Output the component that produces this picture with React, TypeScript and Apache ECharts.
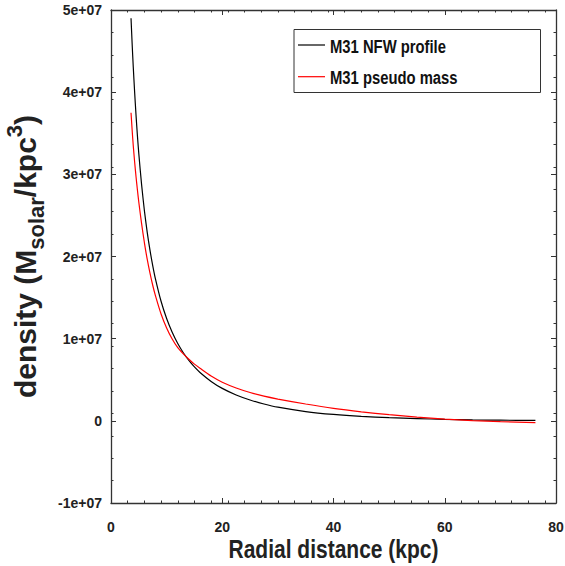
import React, { useEffect, useRef } from "react";
import * as echarts from "echarts";

// Radial distance (kpc) sample points
const radius = [3.6, 3.8, 4, 4.25, 4.5, 4.75, 5, 5.5, 6, 6.5, 7, 7.5, 8, 9, 10, 11, 12, 13, 14, 15, 16, 18, 20, 22.5, 25, 27.5, 30, 35, 40, 45, 50, 55, 60, 65, 70, 76.3];
// M31 NFW profile density (Msolar/kpc^3)
const nfwDensity = [4.9e7, 4.59e7, 4.31e7, 4.0e7, 3.72e7, 3.47e7, 3.25e7, 2.875e7, 2.56e7, 2.3e7, 2.08e7, 1.89e7, 1.725e7, 1.455e7, 1.245e7, 1.078e7, 0.941e7, 0.829e7, 0.735e7, 0.656e7, 0.589e7, 0.48e7, 0.395e7, 0.315e7, 0.254e7, 0.205e7, 0.166e7, 0.113e7, 0.078e7, 0.054e7, 0.038e7, 0.027e7, 0.018e7, 0.012e7, 0.008e7, 0.005e7];
// M31 pseudo mass density (Msolar/kpc^3)
const pseudoDensity = [3.75e7, 3.54e7, 3.35e7, 3.15e7, 2.97e7, 2.81e7, 2.66e7, 2.4e7, 2.17e7, 1.97e7, 1.8e7, 1.65e7, 1.52e7, 1.3e7, 1.13e7, 0.995e7, 0.89e7, 0.815e7, 0.75e7, 0.69e7, 0.64e7, 0.545e7, 0.47e7, 0.4e7, 0.345e7, 0.3e7, 0.265e7, 0.205e7, 0.152e7, 0.11e7, 0.075e7, 0.045e7, 0.02e7, 0.003e7, -0.01e7, -0.022e7];

const seriesNames = ["M31 NFW profile", "M31 pseudo mass"];
const seriesColors = ["#000000", "#ff0000"];
const xTitle = "Radial distance (kpc)";

const xTicks = { min: 0, max: 80, interval: 20 };
const yTicks = { min: -1e7, max: 5e7, interval: 1e7 };

const SANS = "'Liberation Sans', Arial, Helvetica, sans-serif";
const FRAME = "#333333";
const TEXT = "#222222";

function fmtExp(v: number): string {
  if (v === 0) return "0";
  const s = v.toExponential();
  const [m, e] = s.split("e");
  const sign = e[0];
  const digits = e.slice(1).padStart(2, "0");
  return `${m}e${sign}${digits}`;
}

export default function App() {
  const ref = useRef<HTMLDivElement>(null);

  useEffect(() => {
    if (!ref.current) return;
    const chart = echarts.init(ref.current, undefined, { renderer: "svg" });

    const axisLineStyle = { show: true, onZero: false, lineStyle: { color: FRAME, width: 1.3 } };
    const majorTick = { show: true, inside: true, length: 5, lineStyle: { color: FRAME, width: 1 } };
    const minorTick = { show: true, inside: true, length: 2.5, lineStyle: { color: FRAME, width: 1 } };
    const labelStyle = { fontFamily: SANS, fontWeight: "bold", fontSize: 14, color: TEXT };

    const legendGraphics: any[] = seriesNames.flatMap((name, i) => {
      const cy = 45 + i * 31.7;
      return [
        {
          type: "line",
          shape: { x1: 298, y1: cy, x2: 325, y2: cy },
          style: { stroke: seriesColors[i], lineWidth: 1.2 },
          z: 10,
          silent: true,
        },
        {
          type: "text",
          x: 330,
          y: cy + 1.5,
          scaleX: 0.78,
          style: {
            text: name,
            fontFamily: SANS,
            fontWeight: "bold",
            fontSize: 19,
            fill: "#111",
            align: "left",
            verticalAlign: "middle",
          },
          z: 10,
          silent: true,
        },
      ];
    });

    const option: any = {
      animation: false,
      grid: { left: 111, right: 9, top: 10, bottom: 63, containLabel: false, outerBoundsMode: "none" },
      graphic: [
        {
          type: "rect",
          shape: { x: 294, y: 29.5, width: 246.5, height: 63 },
          style: { fill: "#fff", stroke: FRAME, lineWidth: 1 },
          z: 9,
          silent: true,
        },
        ...legendGraphics,
        {
          type: "text",
          x: 333.5,
          y: 549,
          scaleX: 0.84,
          style: {
            text: xTitle,
            fontFamily: SANS,
            fontWeight: "bold",
            fontSize: 25,
            fill: TEXT,
            align: "center",
            verticalAlign: "middle",
          },
          silent: true,
        },
      ],
      xAxis: [
        {
          type: "value",
          position: "bottom",
          min: xTicks.min,
          max: xTicks.max,
          interval: xTicks.interval,
          axisLine: axisLineStyle,
          axisTick: majorTick,
          axisLabel: { ...labelStyle, margin: 17 },
          splitLine: { show: false },
        },
        {
          type: "value",
          position: "top",
          min: xTicks.min,
          max: xTicks.max,
          interval: xTicks.interval,
          axisLine: axisLineStyle,
          axisTick: majorTick,
          axisLabel: { show: false },
          splitLine: { show: false },
        },
        {
          type: "value",
          position: "bottom",
          min: 0,
          max: 80,
          interval: 3,
          axisLine: { show: false, onZero: false },
          axisTick: minorTick,
          axisLabel: { show: false },
          splitLine: { show: false },
        },
        {
          type: "value",
          position: "top",
          min: 0,
          max: 80,
          interval: 3,
          axisLine: { show: false, onZero: false },
          axisTick: minorTick,
          axisLabel: { show: false },
          splitLine: { show: false },
        },
      ],
      yAxis: [
        {
          type: "value",
          position: "left",
          min: yTicks.min,
          max: yTicks.max,
          interval: yTicks.interval,
          name: "{m|density (M}{sub|solar}{m|/kpc}{sup|3}{m|)}",
          nameLocation: "middle",
          nameGap: 58,
          nameTextStyle: {
            rich: {
              m: { fontFamily: SANS, fontWeight: "bold", fontSize: 30, lineHeight: 44, color: TEXT, verticalAlign: "middle" },
              sub: { fontFamily: SANS, fontWeight: "bold", fontSize: 22, lineHeight: 22, color: TEXT, verticalAlign: "bottom" },
              sup: { fontFamily: SANS, fontWeight: "bold", fontSize: 22, lineHeight: 16, color: TEXT, verticalAlign: "top" },
            },
          },
          axisLine: axisLineStyle,
          axisTick: majorTick,
          axisLabel: { ...labelStyle, margin: 9, formatter: (v: number) => fmtExp(v) },
          splitLine: { show: false },
        },
        {
          type: "value",
          position: "right",
          min: yTicks.min,
          max: yTicks.max,
          interval: yTicks.interval,
          axisLine: axisLineStyle,
          axisTick: majorTick,
          axisLabel: { show: false },
          splitLine: { show: false },
        },
        {
          type: "value",
          position: "left",
          min: 0,
          max: 22,
          interval: 1,
          axisLine: { show: false, onZero: false },
          axisTick: minorTick,
          axisLabel: { show: false },
          splitLine: { show: false },
        },
        {
          type: "value",
          position: "right",
          min: 0,
          max: 22,
          interval: 1,
          axisLine: { show: false, onZero: false },
          axisTick: minorTick,
          axisLabel: { show: false },
          splitLine: { show: false },
        },
      ],
      series: [
        {
          type: "line",
          name: seriesNames[0],
          xAxisIndex: 0,
          yAxisIndex: 0,
          data: radius.map((r, i) => [r, nfwDensity[i]]),
          symbol: "none",
          showSymbol: false,
          smooth: 0.25,
          lineStyle: { color: seriesColors[0], width: 1.2 },
          itemStyle: { color: seriesColors[0] },
        },
        {
          type: "line",
          name: seriesNames[1],
          xAxisIndex: 0,
          yAxisIndex: 0,
          data: radius.map((r, i) => [r, pseudoDensity[i]]),
          symbol: "none",
          showSymbol: false,
          smooth: 0.25,
          lineStyle: { color: seriesColors[1], width: 1.2 },
          itemStyle: { color: seriesColors[1] },
        },
      ],
    };

    chart.setOption(option);
    return () => {
      chart.dispose();
    };
  }, []);

  return (
    <div
      ref={ref}
      style={{ position: "fixed", left: 0, top: 0, width: 565, height: 566, background: "#fff" }}
    />
  );
}
